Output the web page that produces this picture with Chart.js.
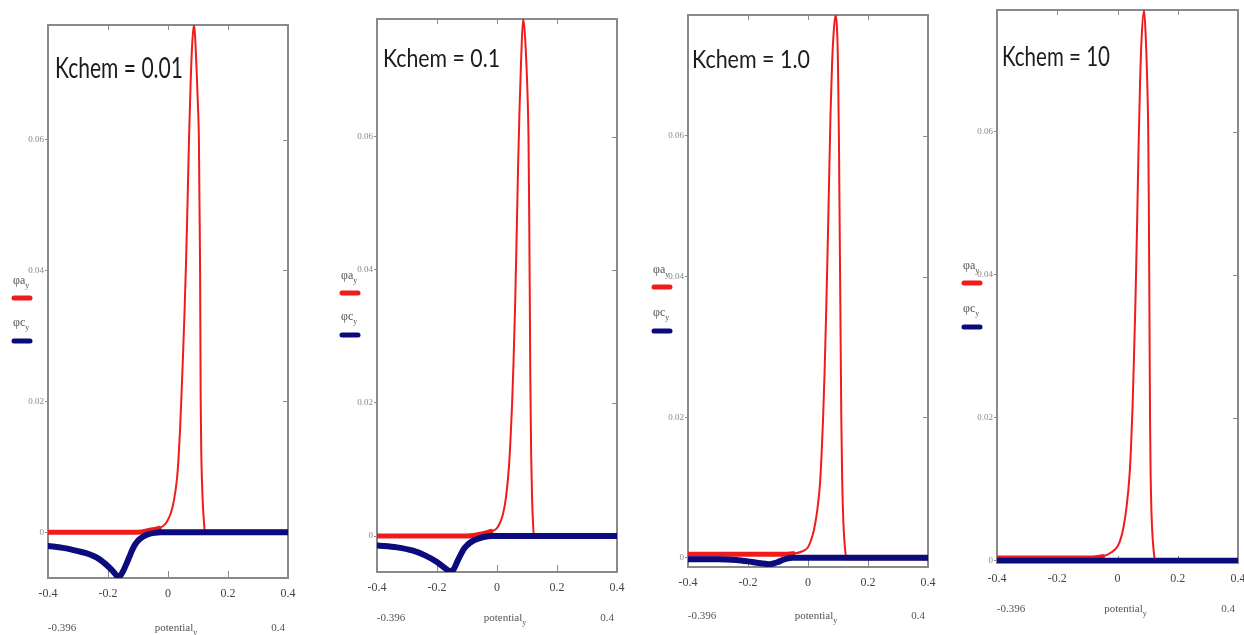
<!DOCTYPE html>
<html>
<head>
<meta charset="utf-8">
<title>Kchem</title>
<script src="https://cdn.jsdelivr.net/npm/chart.js@4.4.0/dist/chart.umd.min.js"></script>
<style>
  html, body { margin: 0; padding: 0; background: #fff; }
  #wrap { position: relative; width: 1244px; height: 635px; overflow: hidden; }
  #wrap canvas { position: absolute; top: 0; }
</style>
</head>
<body>
<div id="wrap"></div>
<script>
// axis ticks shared by all four plots
const xTicks = [-0.4, -0.2, 0, 0.2, 0.4];
const yTicks = [0, 0.02, 0.04, 0.06];
const titles = ["Kchem = 0.01", "Kchem = 0.1", "Kchem = 1.0", "Kchem = 10"];

// Kchem = 0.01
const potA1 = [-0.4, -0.1, -0.06, -0.03, -0.01, 0, 0.01, 0.02, 0.03, 0.035, 0.04, 0.045, 0.05, 0.055, 0.06, 0.065, 0.07, 0.075, 0.08, 0.086, 0.09, 0.095, 0.1, 0.103, 0.105, 0.107, 0.109, 0.111, 0.114, 0.117, 0.12, 0.123, 0.2, 0.4];
const phiA1 = [0, 0, 0.0003, 0.0006, 0.0012, 0.0019, 0.003, 0.0049, 0.0082, 0.0112, 0.0155, 0.021, 0.027, 0.0335, 0.041, 0.05, 0.06, 0.068, 0.074, 0.0775, 0.076, 0.071, 0.065, 0.06, 0.05, 0.04, 0.02, 0.012, 0.0068, 0.0035, 0.0015, 0, 0, 0];
const potC1 = [-0.4, -0.35, -0.3, -0.26, -0.237, -0.215, -0.2, -0.185, -0.172, -0.165, -0.158, -0.15, -0.14, -0.13, -0.12, -0.11, -0.1, -0.09, -0.08, -0.065, -0.045, -0.025, 0, 0.4];
const phiC1 = [-0.0021, -0.0024, -0.0029, -0.0034, -0.0039, -0.0046, -0.0052, -0.0059, -0.0066, -0.0068, -0.0066, -0.006, -0.005, -0.0039, -0.0028, -0.0019, -0.0013, -0.0009, -0.0006, -0.0003, -0.0001, 0, 0, 0];

// Kchem = 0.1
const potA2 = [-0.4, -0.1, -0.05, -0.02, 0, 0.01, 0.02, 0.03, 0.04, 0.045, 0.05, 0.055, 0.06, 0.065, 0.07, 0.075, 0.08, 0.087, 0.092, 0.097, 0.102, 0.105, 0.107, 0.109, 0.111, 0.114, 0.117, 0.12, 0.123, 0.2, 0.4];
const phiA2 = [0, 0, 0.0003, 0.0007, 0.0012, 0.002, 0.0033, 0.0058, 0.0105, 0.0145, 0.0195, 0.026, 0.034, 0.044, 0.055, 0.064, 0.071, 0.0777, 0.076, 0.072, 0.066, 0.06, 0.05, 0.038, 0.024, 0.012, 0.0055, 0.002, 0, 0, 0];
const potC2 = [-0.4, -0.333, -0.28, -0.24, -0.2, -0.18, -0.165, -0.155, -0.145, -0.137, -0.13, -0.12, -0.11, -0.1, -0.09, -0.075, -0.057, -0.04, -0.02, 0.4];
const phiC2 = [-0.0014, -0.0017, -0.0022, -0.0029, -0.0039, -0.0046, -0.0051, -0.0053, -0.005, -0.0043, -0.0036, -0.0027, -0.0019, -0.0014, -0.001, -0.0006, -0.0003, -0.0001, 0, 0];

// Kchem = 1.0
const potA3 = [-0.4, -0.2, -0.1, -0.05, -0.02, 0, 0.01, 0.02, 0.03, 0.04, 0.045, 0.05, 0.055, 0.06, 0.065, 0.07, 0.075, 0.08, 0.086, 0.092, 0.097, 0.1, 0.103, 0.105, 0.107, 0.109, 0.111, 0.114, 0.118, 0.123, 0.128, 0.2, 0.4];
const phiA3 = [0.0005, 0.0005, 0.0005, 0.0006, 0.0009, 0.0015, 0.0025, 0.004, 0.0065, 0.0105, 0.0145, 0.0195, 0.026, 0.034, 0.043, 0.053, 0.063, 0.07, 0.075, 0.0772, 0.075, 0.07, 0.06, 0.05, 0.04, 0.03, 0.02, 0.011, 0.005, 0.0015, 0, 0, 0];
const potC3 = [-0.4, -0.3, -0.24, -0.2, -0.17, -0.15, -0.13, -0.115, -0.1, -0.085, -0.07, -0.05, 0.4];
const phiC3 = [-0.0002, -0.0002, -0.0003, -0.0005, -0.0007, -0.0008, -0.0009, -0.0008, -0.0006, -0.0003, -0.0001, 0, 0];

// Kchem = 10
const potA4 = [-0.4, -0.2, -0.1, -0.05, -0.02, 0, 0.01, 0.02, 0.03, 0.04, 0.045, 0.05, 0.055, 0.06, 0.065, 0.07, 0.075, 0.08, 0.088, 0.093, 0.098, 0.102, 0.104, 0.106, 0.108, 0.11, 0.113, 0.117, 0.121, 0.125, 0.2, 0.4];
const phiA4 = [0.0004, 0.0004, 0.0004, 0.0006, 0.0012, 0.002, 0.003, 0.0047, 0.0075, 0.012, 0.016, 0.0215, 0.029, 0.037, 0.047, 0.058, 0.067, 0.073, 0.077, 0.074, 0.068, 0.06, 0.05, 0.035, 0.02, 0.012, 0.0065, 0.003, 0.001, 0, 0, 0];
const potC4 = [-0.4, 0.4];
const phiC4 = [0, 0];

const RED = "#f01c1c";
const BLUE = "#0b0b7e";
const FRAME = "#8a8a8a";
const SERIF = '"Liberation Serif", "DejaVu Serif", serif';

// page layout of each plot: canvas left edge, plot area [left, top, right, bottom]
const panels = [
  { left: 0,   area: [48, 25, 288, 578],    yRange: [-0.007, 0.0775],  pa: potA1, a: phiA1, pc: potC1, c: phiC1,
    title: [55, 78, 128, 28], legend: [12, 298, 341], limitY: 631 },
  { left: 325, area: [377, 19, 617, 572],   yRange: [-0.0054, 0.0777], pa: potA2, a: phiA2, pc: potC2, c: phiC2,
    title: [383, 67, 117, 25], legend: [340, 293, 335], limitY: 621 },
  { left: 636, area: [688, 15, 928, 567],   yRange: [-0.0013, 0.0772], pa: potA3, a: phiA3, pc: potC3, c: phiC3,
    title: [692, 68, 118, 25], legend: [652, 287, 331], limitY: 619 },
  { left: 945, area: [997, 10, 1238, 563],  yRange: [-0.0003, 0.077],  pa: potA4, a: phiA4, pc: potC4, c: phiC4,
    title: [1002, 66, 108, 26], legend: [962, 283, 327], limitY: 612 }
];

function pts(xs, ys) {
  return xs.map((x, i) => ({ x: x, y: ys[i] }));
}

function subText(ctx, main, sub, x, y, size) {
  ctx.font = size + "px " + SERIF;
  ctx.fillText(main, x, y);
  const w = ctx.measureText(main).width;
  ctx.font = Math.round(size * 0.7) + "px " + SERIF;
  ctx.fillText(sub, x + w, y + 4);
}

// frame, inward ticks, title, legend and range labels in the Mathcad style
const mcadPlugin = {
  id: "mcad",
  beforeDatasetsDraw(chart, args, o) {
    const { ctx, chartArea: a } = chart;
    const x = chart.scales.x, y = chart.scales.y;
    ctx.save();
    ctx.strokeStyle = FRAME;
    ctx.lineWidth = 2;
    ctx.strokeRect(a.left, a.top, a.right - a.left, a.bottom - a.top);
    ctx.lineWidth = 1;
    ctx.beginPath();
    for (const v of xTicks.slice(1, -1)) {
      const px = Math.round(x.getPixelForValue(v)) + 0.5;
      ctx.moveTo(px, a.top); ctx.lineTo(px, a.top + 5);
      ctx.moveTo(px, a.bottom); ctx.lineTo(px, a.bottom - 7);
    }
    for (const v of yTicks.slice(1)) {
      const py = Math.round(y.getPixelForValue(v)) + 0.5;
      ctx.moveTo(a.right, py); ctx.lineTo(a.right - 5, py);
    }
    ctx.stroke();
    ctx.restore();
  },
  afterDraw(chart, args, o) {
    const { ctx, chartArea: a } = chart;
    const x = chart.scales.x;
    ctx.save();
    ctx.fillStyle = "#1c1c1c";
    ctx.font = o.titleSize + "px Lato";
    const w = ctx.measureText(o.title).width;
    ctx.translate(o.titleX, o.titleY);
    ctx.scale(o.titleW / w, 1);
    ctx.fillText(o.title, 0, 0);
    ctx.restore();

    ctx.save();
    ctx.lineCap = "round";
    ctx.lineWidth = 5;
    ctx.strokeStyle = RED;
    ctx.beginPath(); ctx.moveTo(o.lx + 2, o.ly1); ctx.lineTo(o.lx + 18, o.ly1); ctx.stroke();
    ctx.strokeStyle = BLUE;
    ctx.beginPath(); ctx.moveTo(o.lx + 2, o.ly2); ctx.lineTo(o.lx + 18, o.ly2); ctx.stroke();
    ctx.fillStyle = "#555";
    subText(ctx, "φa", "y", o.lx + 1, o.ly1 - 14, 12);
    subText(ctx, "φc", "y", o.lx + 1, o.ly2 - 15, 12);

    ctx.fillStyle = "#555";
    ctx.font = "11px " + SERIF;
    ctx.textAlign = "center";
    ctx.fillText("-0.396", a.left + 14, o.limitY);
    ctx.fillText("0.4", a.right - 10, o.limitY);
    ctx.textAlign = "left";
    ctx.font = "11px " + SERIF;
    const pw = ctx.measureText("potential").width;
    subText(ctx, "potential", "y", x.getPixelForValue(0) + 6 - pw / 2, o.limitY, 11);
    ctx.restore();
  }
};

const wrap = document.getElementById("wrap");

panels.forEach((p, i) => {
  const canvas = document.createElement("canvas");
  const W = 320, H = 635, yW = 20, xH = 25;
  canvas.width = W;
  canvas.height = H;
  canvas.style.left = p.left + "px";
  wrap.appendChild(canvas);
  const [aL, aT, aR, aB] = p.area;

  new Chart(canvas, {
    type: "line",
    data: {
      datasets: [
        {
          label: "φc",
          data: pts(p.pc, p.c),
          borderColor: BLUE,
          borderWidth: 6,
          order: 0
        },
        {
          label: "φa",
          data: pts(p.pa, p.a),
          borderColor: RED,
          borderWidth: 2,
          order: 1,
          segment: {
            borderWidth: c => (Math.abs(c.p0.parsed.y) < 0.0008 && Math.abs(c.p1.parsed.y) < 0.0008) ? 5 : 2
          }
        }
      ]
    },
    options: {
      responsive: false,
      animation: false,
      layout: { padding: { left: aL - p.left - yW, top: aT, right: p.left + W - aR, bottom: H - aB - xH } },
      elements: {
        point: { radius: 0 },
        line: { cubicInterpolationMode: "monotone", borderCapStyle: "round", borderJoinStyle: "round" }
      },
      plugins: {
        legend: { display: false },
        tooltip: { enabled: false },
        mcad: {
          title: titles[i], titleX: p.title[0] - p.left, titleY: p.title[1], titleW: p.title[2], titleSize: p.title[3],
          lx: p.legend[0] - p.left, ly1: p.legend[1], ly2: p.legend[2], limitY: p.limitY
        }
      },
      scales: {
        x: {
          type: "linear",
          min: xTicks[0],
          max: xTicks[xTicks.length - 1],
          afterFit: s => { s.height = xH; },
          afterBuildTicks: s => { s.ticks = xTicks.map(v => ({ value: v })); },
          grid: { display: false, drawTicks: false },
          border: { display: false },
          ticks: {
            padding: 9,
            color: "#444",
            font: { family: SERIF, size: 12 },
            maxRotation: 0,
            callback: v => (v === 0 ? "0" : v.toFixed(1))
          }
        },
        y: {
          min: p.yRange[0],
          max: p.yRange[1],
          afterFit: s => { s.width = yW; },
          afterBuildTicks: s => { s.ticks = yTicks.map(v => ({ value: v })); },
          grid: { drawOnChartArea: false, drawTicks: true, tickLength: 3, color: FRAME },
          border: { display: false },
          ticks: {
            padding: 1,
            color: "#888",
            font: { family: SERIF, size: 9 },
            callback: v => (v === 0 ? "0" : v.toFixed(2))
          }
        }
      }
    },
    plugins: [mcadPlugin]
  });
});
</script>
</body>
</html>
